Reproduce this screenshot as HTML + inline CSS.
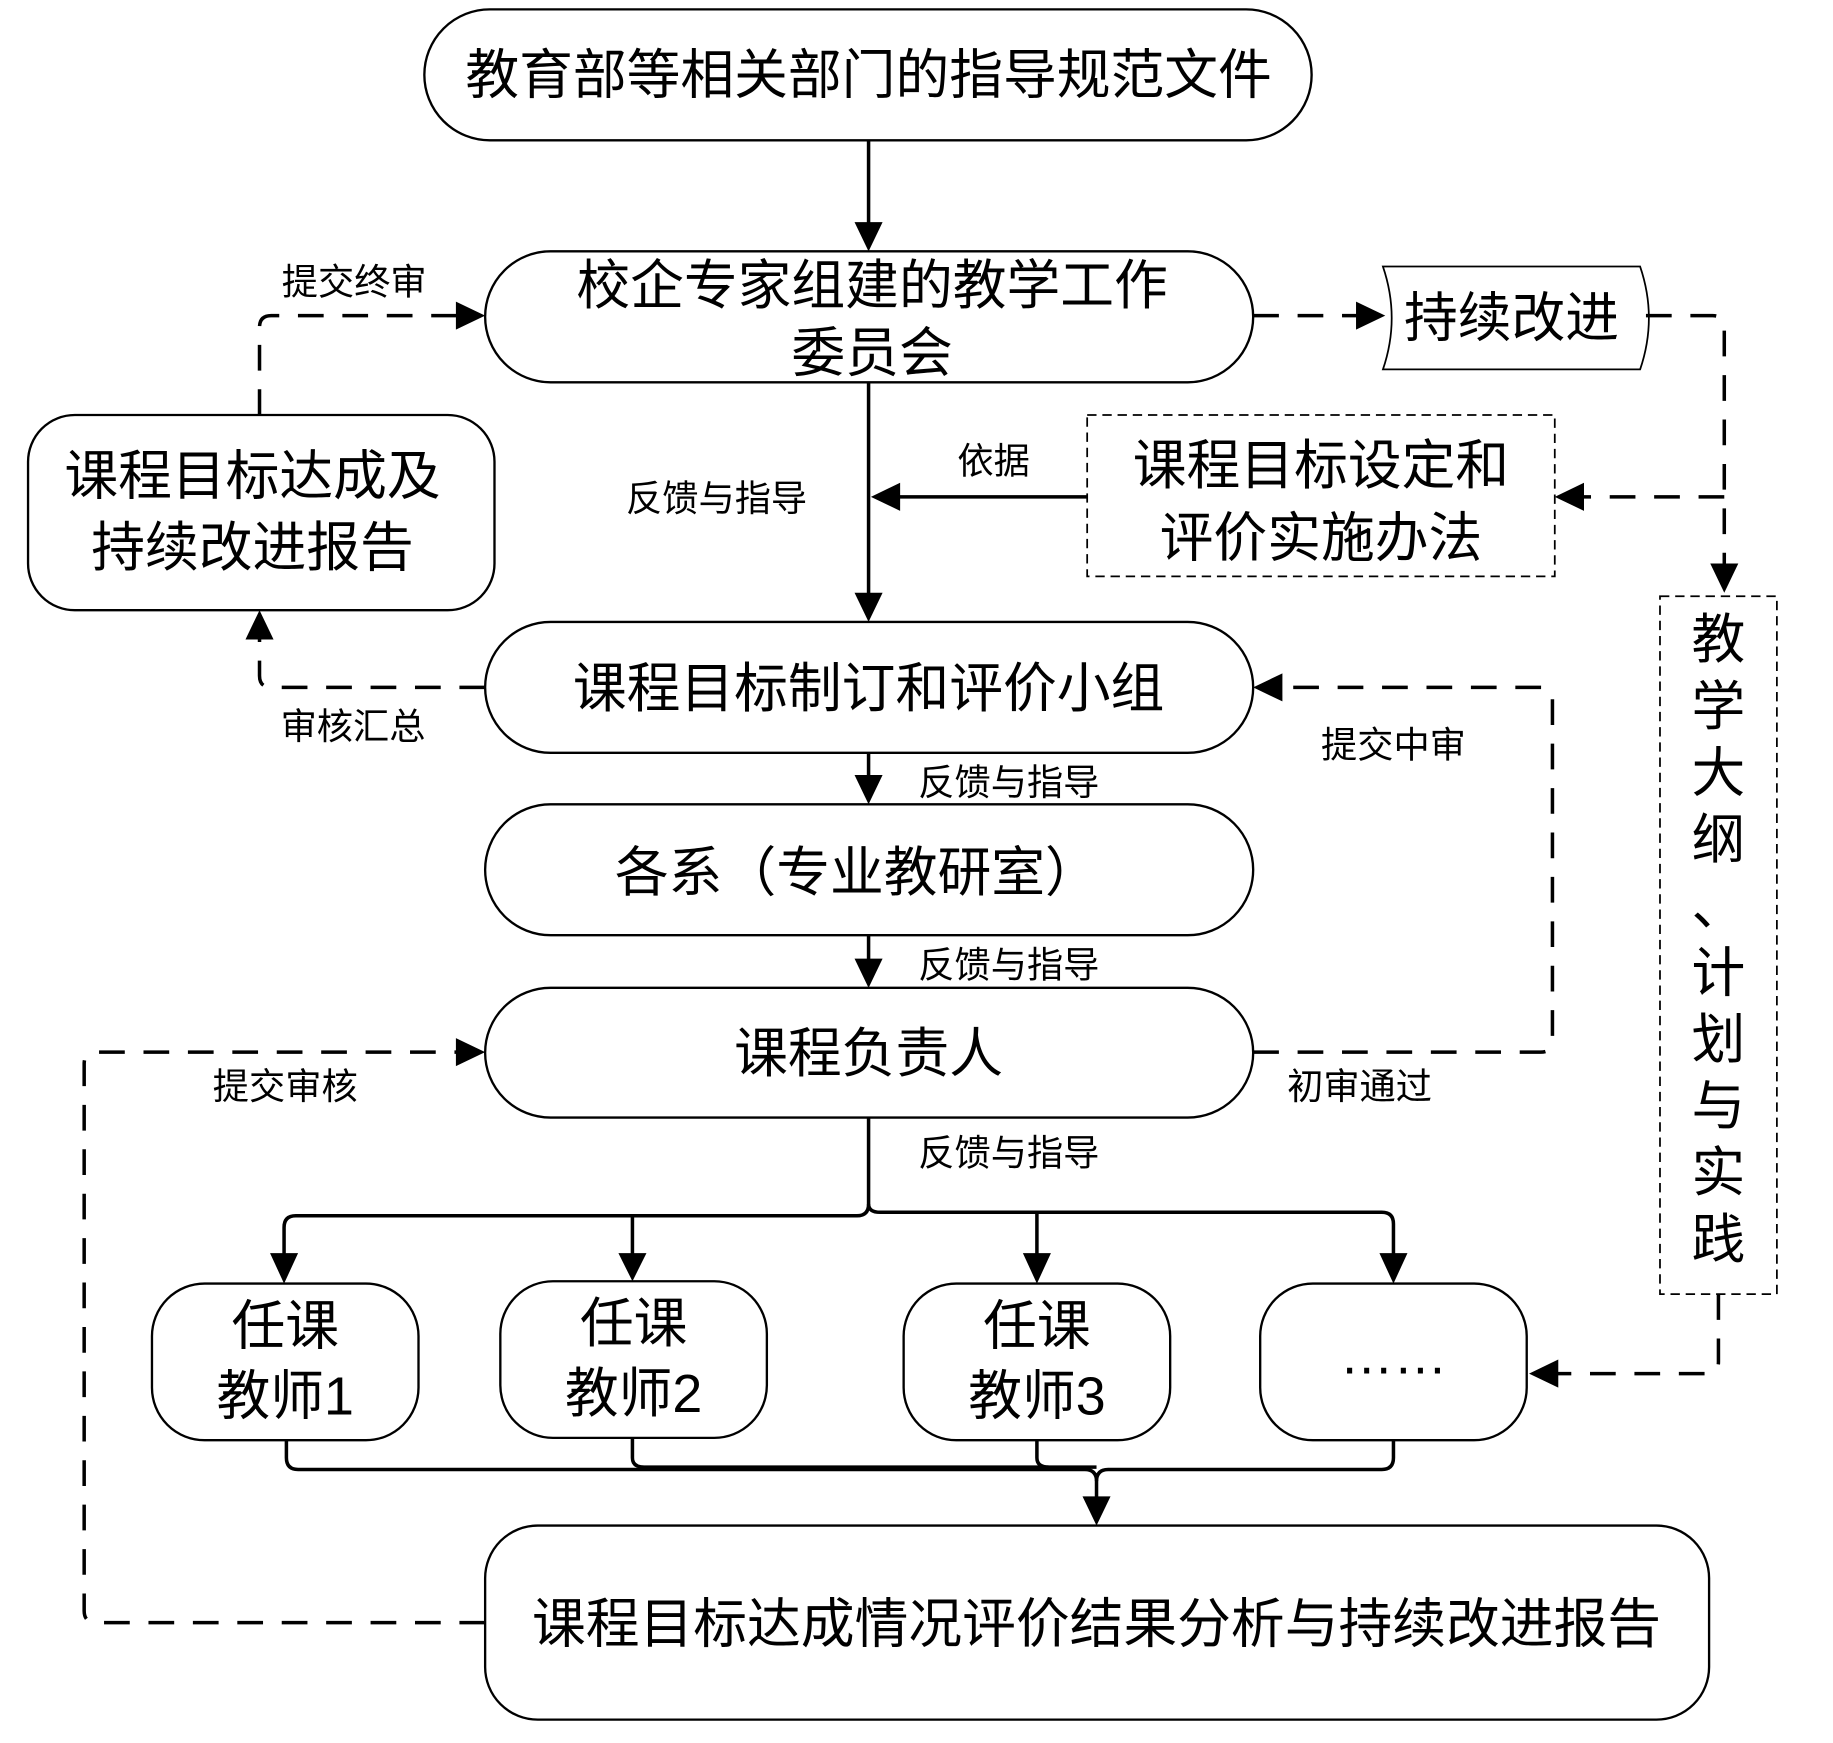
<!DOCTYPE html>
<html><head><meta charset="utf-8"><style>
html,body{margin:0;padding:0;background:#fff;}
svg{display:block;}
text{font-family:"Liberation Sans","Noto Sans CJK SC",sans-serif;fill:#000;}
.b{font-size:46px;}
.l{font-size:31px;}
</style></head><body>
<svg width="1833" height="1743" viewBox="0 0 1568 1491" xmlns="http://www.w3.org/2000/svg">
<defs>
<marker id="a" markerWidth="10" markerHeight="10" refX="9" refY="5" orient="auto" markerUnits="userSpaceOnUse" viewBox="0 0 10 10">
</marker>
</defs>
<g fill="none" stroke="#000" stroke-width="2">
<rect x="363" y="8" width="759" height="112" rx="56"/>
<rect x="415" y="215" width="657" height="112" rx="56"/>
<rect x="24" y="355" width="399" height="167" rx="40"/>
<rect x="930" y="355" width="400" height="138" stroke-dasharray="8,5" stroke-width="1.5"/>
<rect x="415" y="532" width="657" height="112" rx="56"/>
<rect x="415" y="688" width="657" height="112" rx="56"/>
<rect x="415" y="845" width="657" height="111" rx="56"/>
<rect x="130" y="1098" width="228" height="134" rx="45"/>
<rect x="428" y="1096" width="228" height="134" rx="45"/>
<rect x="773" y="1098" width="228" height="134" rx="45"/>
<rect x="1078" y="1098" width="228" height="134" rx="45"/>
<rect x="415" y="1305" width="1047" height="166" rx="45"/>
<rect x="1420" y="510" width="100" height="597" stroke-dasharray="8,5" stroke-width="1.5"/>
<path d="M1183,228 L1403,228 Q1418,272 1403,316 L1183,316 Q1198,272 1183,228 Z" stroke-width="1.5"/>
</g>
<g fill="none" stroke="#000" stroke-width="3">
<path d="M743,120 V195"/>
<path d="M743,327 V510"/>
<path d="M930,425 H765"/>
<path d="M743,644 V668"/>
<path d="M743,800 V825"/>
<path d="M743,956 V1030 Q743,1040 733,1040 H253 Q243,1040 243,1050 V1078"/>
<path d="M743,1030 Q743,1037 753,1037 H1182 Q1192,1037 1192,1047 V1078"/>
<path d="M541,1040 Q541,1040 541,1050 V1078"/>
<path d="M887,1037 V1078"/>
<path d="M245,1232 V1247 Q245,1257 255,1257 H928 Q938,1257 938,1267 V1285"/>
<path d="M541,1230 V1247 Q541,1255 551,1255 H938"/>
<path d="M887,1232 V1247 Q887,1255 897,1255"/>
<path d="M1192,1232 V1247 Q1192,1257 1182,1257 H948 Q938,1257 938,1267"/>
</g>
<g fill="none" stroke="#000" stroke-width="3" stroke-dasharray="22,16">
<path d="M222,355 V280 Q222,270 232,270 H395"/>
<path d="M1072,270 H1165"/>
<path d="M1408,270 H1465 Q1475,270 1475,280 V485"/>
<path d="M1475,425 H1350"/>
<path d="M415,588 H232 Q222,588 222,578 V545"/>
<path d="M1072,900 H1318 Q1328,900 1328,890 V598 Q1328,588 1318,588 H1095"/>
<path d="M415,1388 H82 Q72,1388 72,1378 V910 Q72,900 82,900 H395"/>
<path d="M1470,1107 V1165 Q1470,1175 1460,1175 H1330"/>
</g>
<g fill="#000">
<polygon points="731,190 755,190 743,215"/>
<polygon points="731,507 755,507 743,532"/>
<polygon points="770,413 770,437 745,425"/>
<polygon points="731,663 755,663 743,688"/>
<polygon points="731,820 755,820 743,845"/>
<polygon points="231,1072 255,1072 243,1098"/>
<polygon points="529,1072 553,1072 541,1096"/>
<polygon points="875,1072 899,1072 887,1098"/>
<polygon points="1180,1072 1204,1072 1192,1098"/>
<polygon points="926,1280 950,1280 938,1305"/>
<polygon points="390,258 390,282 415,270"/>
<polygon points="1160,258 1160,282 1185,270"/>
<polygon points="1463,482 1487,482 1475,507"/>
<polygon points="1355,413 1355,437 1330,425"/>
<polygon points="210,547 234,547 222,522"/>
<polygon points="1097,576 1097,600 1072,588"/>
<polygon points="390,888 390,912 415,900"/>
<polygon points="1333,1163 1333,1187 1308,1175"/>
</g>
<g class="b" text-anchor="middle">
<text x="743" y="80">教育部等相关部门的指导规范文件</text>
<text x="746" y="260">校企专家组建的教学工作</text>
<text x="746" y="318">委员会</text>
<text x="1293" y="288">持续改进</text>
<text x="216" y="423">课程目标达成及</text>
<text x="216" y="484">持续改进报告</text>
<text x="1130" y="414">课程目标设定和</text>
<text x="1130" y="476">评价实施办法</text>
<text x="743" y="605">课程目标制订和评价小组</text>
<text x="733" y="762">各系（专业教研室）</text>
<text x="743" y="917">课程负责人</text>
<text x="244" y="1150">任课</text>
<text x="244" y="1210">教师1</text>
<text x="542" y="1148">任课</text>
<text x="542" y="1208">教师2</text>
<text x="887" y="1150">任课</text>
<text x="887" y="1210">教师3</text>
<text x="1192" y="1175">……</text>
<text x="938" y="1405">课程目标达成情况评价结果分析与持续改进报告</text>
<text x="1470" y="563">教</text>
<text x="1470" y="620">学</text>
<text x="1470" y="677">大</text>
<text x="1470" y="734">纲</text>
<text x="1470" y="791">、</text>
<text x="1470" y="848">计</text>
<text x="1470" y="905">划</text>
<text x="1470" y="962">与</text>
<text x="1470" y="1019">实</text>
<text x="1470" y="1076">践</text>
</g>
<g class="l" text-anchor="middle">
<text x="303" y="252">提交终审</text>
<text x="850" y="405">依据</text>
<text x="613" y="437">反馈与指导</text>
<text x="302" y="632">审核汇总</text>
<text x="863" y="680">反馈与指导</text>
<text x="1192" y="648">提交中审</text>
<text x="863" y="836">反馈与指导</text>
<text x="244" y="940">提交审核</text>
<text x="1163" y="940">初审通过</text>
<text x="863" y="997">反馈与指导</text>
</g>
</svg>
</body></html>
